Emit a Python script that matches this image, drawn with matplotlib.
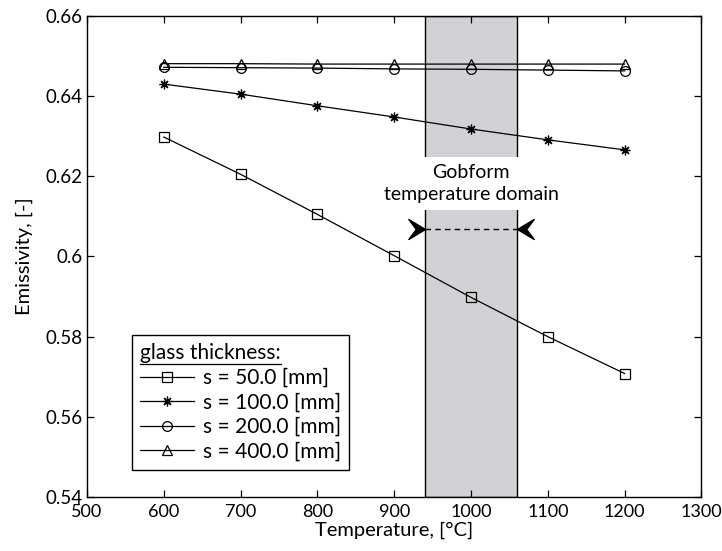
import matplotlib
matplotlib.use("Agg")
import matplotlib.pyplot as plt
from matplotlib.path import Path
from matplotlib.lines import Line2D

plt.rcParams['font.family'] = ['Lato', 'DejaVu Sans']

# temperatures [°C] and emissivity per glass thickness
temperature = [600, 700, 800, 900, 1000, 1100, 1200]
eps_50 = [0.6298, 0.6205, 0.6105, 0.6002, 0.5898, 0.5800, 0.5708]
eps_100 = [0.6430, 0.6405, 0.6376, 0.6348, 0.6318, 0.6291, 0.6266]
eps_200 = [0.6472, 0.6471, 0.6470, 0.6468, 0.6467, 0.6465, 0.6463]
eps_400 = [0.6481, 0.6481, 0.6480, 0.6480, 0.6480, 0.6480, 0.6480]
labels = ['s = 50.0 [mm]', 's = 100.0 [mm]', 's = 200.0 [mm]', 's = 400.0 [mm]']

# gobform temperature domain
domain = (940, 1060)

fig = plt.figure(figsize=(7.22, 5.51), dpi=100)
ax = fig.add_axes([0.1205, 0.098, 0.851, 0.873])

# shaded domain band, interrupted behind the text
ax.axvspan(domain[0], domain[1], facecolor='#d2d2d6', edgecolor='black', linewidth=1.0, zorder=0)

star = (8, 2, 0)
series = [(eps_50, 's'), (eps_100, star), (eps_200, 'o'), (eps_400, '^')]
for lab, (data, mk) in zip(labels, series):
    ax.plot(temperature, data, color='black', linewidth=0.9, marker=mk,
            markersize=7 if mk != 's' else 6.5, markerfacecolor='none',
            markeredgecolor='black', markeredgewidth=0.9, label=lab, zorder=3)

ax.text(1000, 0.6182, 'Gobform\ntemperature domain', ha='center', va='center',
        fontsize=14, linespacing=1.35,
        bbox=dict(facecolor='white', edgecolor='none', pad=5), zorder=2)

# dashed line with inward pointing heads
y_arrow = 0.6069
ax.plot(domain, [y_arrow, y_arrow], color='black', linestyle=(0, (4, 3)), linewidth=1.0, zorder=3)
head = Path([(0, 0), (-1, 0.6), (-0.55, 0), (-1, -0.6), (0, 0)],
            [Path.MOVETO, Path.LINETO, Path.LINETO, Path.LINETO, Path.CLOSEPOLY])
head_left = Path([(-x, y) for x, y in head.vertices], head.codes)
ax.plot([domain[0]], [y_arrow], marker=head, markersize=24, color='black', zorder=4)
ax.plot([domain[1]], [y_arrow], marker=head_left, markersize=24, color='black', zorder=4)

ax.set_xlim(500, 1300)
ax.set_ylim(0.54, 0.66)
ax.set_xticks(range(500, 1301, 100))
ax.set_yticks([0.54, 0.56, 0.58, 0.6, 0.62, 0.64, 0.66])
ax.set_yticklabels(['0.54', '0.56', '0.58', '0.6', '0.62', '0.64', '0.66'])
ax.tick_params(direction='in', top=True, right=True, length=5, width=0.9, labelsize=13.5)
ax.tick_params(axis='x', pad=5, labelsize=13)
for sp in ax.spines.values():
    sp.set_linewidth(1.0)

ax.set_xlabel('Temperature, [°C]', fontsize=14.5, labelpad=1)
ax.set_ylabel('Emissivity, [-]', fontsize=14.5, labelpad=9)

leg = ax.legend(loc='lower left', bbox_to_anchor=(0.073, 0.056), borderaxespad=0,
                title='glass thickness:', title_fontsize=15, fontsize=15,
                fancybox=False, edgecolor='black', framealpha=1, handlelength=2.6,
                handletextpad=0.4, labelspacing=0.22, borderpad=0.4)
leg.get_frame().set_linewidth(1.0)
leg._legend_box.align = 'left'

# underline the legend title
fig.canvas.draw()
bb = leg.get_title().get_window_extent()
inv = fig.transFigure.inverted()
(x0, y0), (x1, _) = inv.transform([(bb.x0, bb.y0 - 1), (bb.x1, bb.y0 - 1)])
fig.add_artist(Line2D([x0, x1], [y0, y0], color='black', linewidth=0.9, transform=fig.transFigure))

fig.savefig('out.png', dpi=100)
